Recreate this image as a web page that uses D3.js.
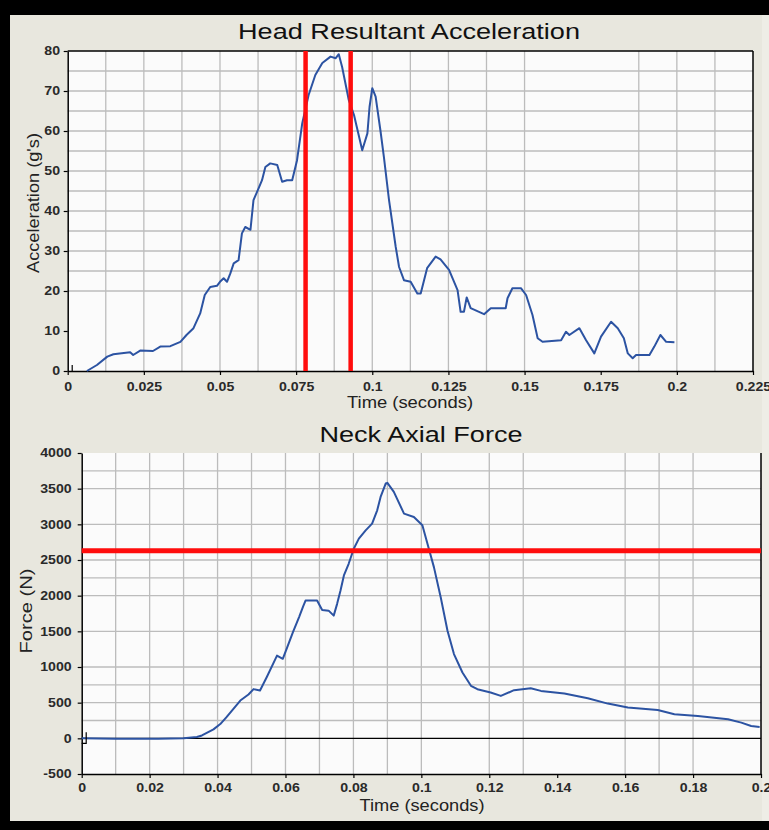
<!DOCTYPE html>
<html>
<head>
<meta charset="utf-8">
<script src="https://cdn.jsdelivr.net/npm/d3@7"></script>
<style>
  body { margin: 0; background: #000; }
  svg { display: block; }
  text { font-family: "Liberation Sans", Arial, sans-serif; }
</style>
</head>
<body>
<div id="chart"></div>
<script>
// head resultant acceleration trace (seconds, g's)
const headTime = [0.0063, 0.0096, 0.013, 0.015, 0.0205, 0.0215, 0.0238, 0.028, 0.0304, 0.0337,
  0.037, 0.039, 0.0413, 0.0435, 0.045, 0.0468, 0.049, 0.050, 0.0512, 0.0523,
  0.0534, 0.0545, 0.0561, 0.0572, 0.0583, 0.060, 0.061, 0.0627, 0.0638, 0.0649,
  0.0665, 0.0688, 0.0704, 0.072, 0.0737, 0.0753, 0.077, 0.0791, 0.0813, 0.0836,
  0.0863, 0.088, 0.089, 0.0901, 0.0923, 0.094, 0.0967, 0.0984, 0.0991, 0.1,
  0.1011, 0.1027, 0.1038, 0.1055, 0.1077, 0.1088, 0.1104, 0.1126, 0.1148, 0.1159,
  0.118, 0.1208, 0.1224, 0.1252, 0.128, 0.129, 0.1301, 0.131, 0.1323, 0.1367,
  0.1389, 0.1438, 0.1444, 0.146, 0.1488, 0.1505, 0.1526, 0.1543, 0.1559, 0.162,
  0.1636, 0.1647, 0.168, 0.1702, 0.1729, 0.1751, 0.1784, 0.1806, 0.1826, 0.1839,
  0.1855, 0.1866, 0.191, 0.1926, 0.1946, 0.1965, 0.1992];
const headAccel = [0, 1.5, 3.6, 4.2, 4.7, 4.0, 5.1, 5.0, 6.1, 6.2,
  7.3, 9.0, 10.7, 14.4, 19.0, 21.0, 21.3, 22.3, 23.2, 22.3,
  24.4, 26.9, 27.7, 34.4, 36.0, 35.3, 42.7, 45.7, 47.7, 51.0,
  51.9, 51.5, 47.3, 47.7, 47.7, 52.7, 61.9, 69.0, 74.0, 77.0,
  78.6, 78.2, 79.2, 76.0, 67.7, 64.0, 55.2, 59.4, 66.0, 70.7,
  68.6, 60.0, 53.6, 42.7, 31.0, 26.0, 22.7, 22.3, 19.4, 19.4,
  25.7, 28.6, 27.9, 25.3, 20.2, 14.8, 14.8, 18.4, 15.7, 14.2,
  15.7, 15.7, 18.2, 20.7, 20.7, 19.0, 14.0, 8.2, 7.3, 7.7,
  9.8, 9.0, 10.7, 7.7, 4.4, 8.6, 12.3, 10.7, 8.2, 4.4,
  3.2, 4.0, 4.0, 6.1, 9.0, 7.3, 7.2];

// neck axial force trace (seconds, N)
const neckTime = [0, 0.01, 0.0225, 0.03, 0.0339, 0.0354, 0.0388, 0.0408, 0.0427, 0.0467,
  0.0491, 0.0506, 0.0525, 0.0545, 0.0575, 0.0592, 0.0605, 0.0622, 0.0640, 0.0652,
  0.0659, 0.0693, 0.0708, 0.0727, 0.0742, 0.0752, 0.0762, 0.0772, 0.0786, 0.0801,
  0.0816, 0.0836, 0.0855, 0.087, 0.088, 0.0895, 0.09, 0.0919, 0.0949, 0.0978,
  0.1003, 0.1018, 0.1037, 0.1057, 0.1077, 0.1096, 0.1121, 0.1146, 0.1165, 0.1204,
  0.1234, 0.1273, 0.1322, 0.1352, 0.1421, 0.149, 0.1549, 0.1608, 0.1696, 0.1745,
  0.1814, 0.1903, 0.1942, 0.1971, 0.1996];
const neckForce = [0, -5, -5, 0, 18, 40, 126, 200, 300, 530,
  615, 690, 670, 860, 1160, 1115, 1274, 1490, 1700, 1850,
  1931, 1931, 1800, 1790, 1720, 1885, 2072, 2283, 2447, 2658,
  2799, 2916, 3010, 3197, 3384, 3572, 3581, 3454, 3150, 3103,
  2986, 2728, 2400, 1978, 1509, 1181, 923, 736, 689, 642,
  595, 675, 703, 665, 628, 562, 487, 431, 398, 337,
  314, 267, 220, 173, 159];

// injury limit markers
const headLimits = [0.0781, 0.0929];
const neckLimit = 2630;

// tick labels
const headTicksX = [0, 0.025, 0.05, 0.075, 0.1, 0.125, 0.15, 0.175, 0.2, 0.225];
const headTicksY = [0, 10, 20, 30, 40, 50, 60, 70, 80];
const neckTicksX = [0, 0.02, 0.04, 0.06, 0.08, 0.1, 0.12, 0.14, 0.16, 0.18, 0.2];
const neckTicksY = [-500, 0, 500, 1000, 1500, 2000, 2500, 3000, 3500, 4000];

// grid lines as they show in the capture
const headGridX = [0.0125, 0.025, 0.0375, 0.05, 0.0625, 0.075, 0.0875, 0.1, 0.1125, 0.125,
  0.1375, 0.15, 0.1875, 0.2, 0.2125];
const headGridY = [20, 25, 30, 35, 40, 45, 50, 55, 60, 65, 70, 75];
const neckGridX = [0.01, 0.02, 0.03, 0.04, 0.05, 0.06, 0.07, 0.08, 0.09, 0.1, 0.12, 0.13, 0.16, 0.17, 0.18];
const neckGridY = [250, 500, 750, 1000, 1500, 2000, 2250, 2500, 3000, 3500, 3750];

const W = 769, H = 830;
const svg = d3.select('#chart').append('svg').attr('width', W).attr('height', H);

svg.append('rect').attr('width', W).attr('height', H).attr('fill', '#000');
svg.append('rect').attr('x', 10).attr('y', 15).attr('width', W - 10).attr('height', 806).attr('fill', '#e8e7de');
svg.append('rect').attr('x', 762).attr('y', 15).attr('width', 7).attr('height', 806).attr('fill', '#eeede6');

function drawPanel(cfg) {
  const g = svg.append('g');
  const x = d3.scaleLinear().domain(cfg.xDomain).range([cfg.left, cfg.right]);
  const y = d3.scaleLinear().domain(cfg.yDomain).range([cfg.bottom, cfg.top]);

  g.append('rect')
    .attr('x', cfg.left).attr('y', cfg.top)
    .attr('width', cfg.right - cfg.left).attr('height', cfg.bottom - cfg.top)
    .attr('fill', '#fbfbfb');

  // grid
  g.selectAll('.gx').data(cfg.gridX).enter().append('line')
    .attr('x1', d => x(d)).attr('x2', d => x(d))
    .attr('y1', cfg.top).attr('y2', cfg.bottom)
    .attr('stroke', '#bcbcbc').attr('stroke-width', 1.3);
  g.selectAll('.gy').data(cfg.gridY).enter().append('line')
    .attr('x1', cfg.left).attr('x2', cfg.right)
    .attr('y1', d => y(d)).attr('y2', d => y(d))
    .attr('stroke', '#bcbcbc').attr('stroke-width', 1.3);

  if (cfg.zeroLine) {
    g.append('line')
      .attr('x1', cfg.left).attr('x2', cfg.right)
      .attr('y1', y(0)).attr('y2', y(0))
      .attr('stroke', '#000').attr('stroke-width', 1.3);
  }

  // axes
  const xAxis = g.append('g').attr('transform', `translate(0,${cfg.bottom})`)
    .call(d3.axisBottom(x).tickValues(cfg.ticksX).tickFormat(d => d)
      .tickSizeInner(4).tickSizeOuter(0).tickPadding(cfg.xPad));
  const yAxis = g.append('g').attr('transform', `translate(${cfg.left},0)`)
    .call(d3.axisLeft(y).tickValues(cfg.ticksY).tickFormat(d => d)
      .tickSizeInner(4).tickSizeOuter(0).tickPadding(cfg.yPad));
  [xAxis, yAxis].forEach(a => {
    a.select('.domain').attr('stroke', '#000').attr('stroke-width', 1.5);
    a.selectAll('.tick line').attr('stroke', '#000').attr('stroke-width', 1.2);
    a.selectAll('.tick text')
      .attr('font-size', 12).attr('font-weight', 'bold').attr('fill', '#2a2a2a')
      .attr('font-family', '"Liberation Sans", Arial, sans-serif')
      .attr('transform', 'scale(1.18,1)');
  });

  // frame
  g.append('line').attr('x1', cfg.right).attr('x2', cfg.right)
    .attr('y1', cfg.top).attr('y2', cfg.bottom)
    .attr('stroke', '#000').attr('stroke-width', 1.5);
  if (cfg.topBorder) {
    g.append('line').attr('x1', cfg.left).attr('x2', cfg.right)
      .attr('y1', cfg.top).attr('y2', cfg.top)
      .attr('stroke', '#000').attr('stroke-width', 1.5);
  }

  // series
  const pts = cfg.xs.map((t, i) => [t, cfg.ys[i]]);
  g.append('path').datum(pts)
    .attr('d', d3.line().x(d => x(d[0])).y(d => y(d[1])))
    .attr('fill', 'none').attr('stroke', '#2c53a2').attr('stroke-width', 2)
    .attr('stroke-linejoin', 'round');

  // limits
  if (cfg.vLimits) {
    g.selectAll('.lim').data(cfg.vLimits).enter().append('line')
      .attr('x1', d => x(d)).attr('x2', d => x(d))
      .attr('y1', cfg.top).attr('y2', cfg.bottom)
      .attr('stroke', '#ff0d0d').attr('stroke-width', 4.5);
  }
  if (cfg.hLimit != null) {
    g.append('line')
      .attr('x1', cfg.left).attr('x2', cfg.right)
      .attr('y1', y(cfg.hLimit)).attr('y2', y(cfg.hLimit))
      .attr('stroke', '#ff0d0d').attr('stroke-width', 5);
  }

  // small origin marker
  if (cfg.hook) {
    g.append('path')
      .attr('d', `M${x(0) + 4.5},${y(0) - 6}V${y(0) + 5}H${x(0)}`)
      .attr('fill', 'none').attr('stroke', '#000').attr('stroke-width', 1.2);
  } else {
    g.append('line').attr('x1', x(0) + 4.5).attr('x2', x(0) + 4.5)
      .attr('y1', y(0) - 6).attr('y2', y(0))
      .attr('stroke', '#000').attr('stroke-width', 1.2);
  }

  // text
  g.append('text').text(cfg.title)
    .attr('x', cfg.titleX).attr('y', cfg.titleY)
    .attr('text-anchor', 'middle').attr('font-size', 22).attr('fill', '#111')
    .attr('textLength', cfg.titleLen).attr('lengthAdjust', 'spacingAndGlyphs');
  g.append('text').text(cfg.xLabel)
    .attr('x', cfg.xLabelX).attr('y', cfg.xLabelY)
    .attr('text-anchor', 'middle').attr('font-size', 16).attr('fill', '#222')
    .attr('textLength', cfg.xLabelLen).attr('lengthAdjust', 'spacingAndGlyphs');
  g.append('text').text(cfg.yLabel)
    .attr('transform', `translate(${cfg.yLabelX},${cfg.yLabelY}) rotate(-90)`)
    .attr('text-anchor', 'middle').attr('font-size', 16).attr('fill', '#222')
    .attr('textLength', cfg.yLabelLen).attr('lengthAdjust', 'spacingAndGlyphs');
}

drawPanel({
  left: 67.7, right: 753, top: 51, bottom: 371,
  xDomain: [0, 0.225], yDomain: [0, 80],
  ticksX: headTicksX, ticksY: headTicksY, gridX: headGridX, gridY: headGridY,
  xPad: 7, yPad: 2.5,
  xs: headTime, ys: headAccel,
  vLimits: headLimits, topBorder: true, zeroLine: false, hook: false,
  title: 'Head Resultant Acceleration', titleX: 409, titleY: 39, titleLen: 342,
  xLabel: 'Time (seconds)', xLabelX: 410, xLabelY: 408, xLabelLen: 126,
  yLabel: 'Acceleration (g\'s)', yLabelX: 39, yLabelY: 203, yLabelLen: 140
});

drawPanel({
  left: 81.7, right: 761, top: 453, bottom: 774,
  xDomain: [0, 0.2], yDomain: [-500, 4000],
  ticksX: neckTicksX, ticksY: neckTicksY, gridX: neckGridX, gridY: neckGridY,
  xPad: 5, yPad: 4.5,
  xs: neckTime, ys: neckForce,
  hLimit: neckLimit, topBorder: false, zeroLine: true, hook: true,
  title: 'Neck Axial Force', titleX: 421, titleY: 442, titleLen: 203,
  xLabel: 'Time (seconds)', xLabelX: 422, xLabelY: 811, xLabelLen: 125,
  yLabel: 'Force (N)', yLabelX: 32, yLabelY: 611, yLabelLen: 85
});
</script>
</body>
</html>
